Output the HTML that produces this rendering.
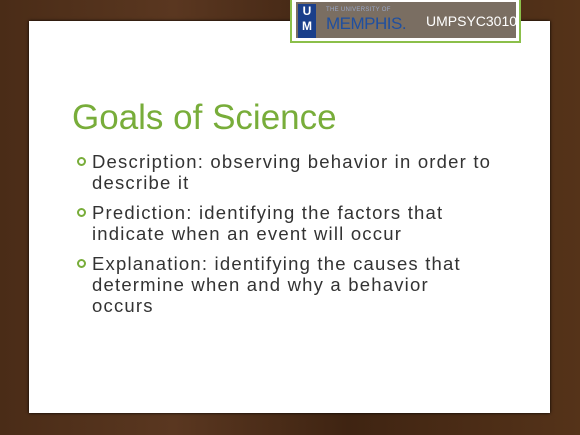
<!DOCTYPE html>
<html><head><meta charset="utf-8"><style>
body{margin:0;width:580px;height:435px;overflow:hidden;background:linear-gradient(90deg,#4a2c17,#5a3720 30%,#3f2412 60%,#553319);font-family:"Liberation Sans",sans-serif;position:relative}
.panel{position:absolute;left:29px;top:21px;width:521px;height:392px;background:#fff;box-shadow:0 0 3px #000}
.logo{position:absolute;left:290px;top:0;width:231px;height:43px;background:#fff;border:2px solid #8bbf4a;border-top:none;box-sizing:border-box}
.inner{position:absolute;left:4px;top:2px;right:3px;bottom:3px;background:#7a6e62}
.um{position:absolute;left:2px;top:2px;width:18px;height:34px;background:#1a3f8a;color:#fff;font-size:12px;line-height:15px;text-align:center;font-weight:bold}
.mem{position:absolute;left:30px;top:5px;color:#1f4fa0;font-size:17px;line-height:20px;letter-spacing:-0.5px}
.mem small{display:block;font-size:6px;line-height:7px;color:#9aa8c8;letter-spacing:0.3px}
.code{position:absolute;left:130px;top:11px;color:#fff;font-size:14px}
h1{position:absolute;left:72px;top:98px;margin:0;font-weight:normal;font-size:35px;color:#78ad3a}
ul{position:absolute;left:77px;top:151px;margin:0;padding:0;list-style:none;width:450px}
li{position:relative;padding-left:15px;font-size:18.5px;line-height:21px;color:#333;margin-bottom:9px;letter-spacing:1.2px}
li:before{content:"";position:absolute;left:0;top:6px;width:5px;height:5px;border:2.5px solid #78ad3a;border-radius:50%}
</style></head><body>
<div class="panel"></div>
<div class="logo"><div class="inner">
<div class="um">U<br>M</div>
<div class="mem"><small>THE UNIVERSITY OF</small>MEMPHIS.</div>
<div class="code">UMPSYC3010</div></div></div>
<h1>Goals of Science</h1>
<ul>
<li>Description: observing behavior in order to<br>describe it</li>
<li>Prediction: identifying the factors that<br>indicate when an event will occur</li>
<li>Explanation: identifying the causes that<br>determine when and why a behavior<br>occurs</li>
</ul>
</body></html>
